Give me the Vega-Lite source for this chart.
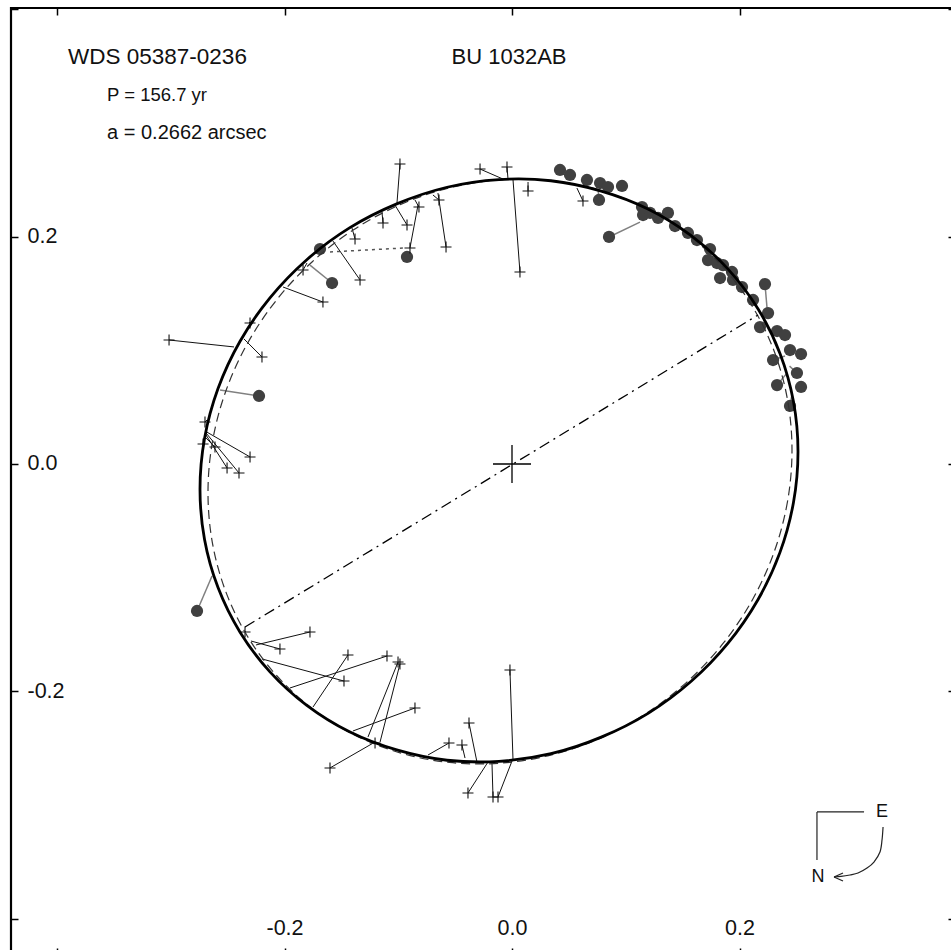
{
  "$schema": "https://vega.github.io/schema/vega-lite/v6.json",
  "width": 944,
  "height": 947,
  "autosize": {"type": "none"},
  "padding": {"left": 11, "top": 8, "right": 0, "bottom": 0},
  "background": "white",
  "config": {"view": {"stroke": "#000", "strokeWidth": 2.2}, "font": "Liberation Sans"},
  "datasets": {
    "orbit": [
      {"i": 0, "x": 0.25143, "y": 0.01076}, {"i": 1, "x": 0.24744, "y": -0.03390}, {"i": 2, "x": 0.23558, "y": -0.07771},
      {"i": 3, "x": 0.21621, "y": -0.11932}, {"i": 4, "x": 0.18993, "y": -0.15749}, {"i": 5, "x": 0.15753, "y": -0.19104},
      {"i": 6, "x": 0.12000, "y": -0.21896}, {"i": 7, "x": 0.07847, "y": -0.24010}, {"i": 8, "x": 0.03422, "y": -0.25471},
      {"i": 9, "x": -0.01143, "y": -0.26145}, {"i": 10, "x": -0.05708, "y": -0.26043}, {"i": 11, "x": -0.10133, "y": -0.25136},
      {"i": 12, "x": -0.14286, "y": -0.23542}, {"i": 13, "x": -0.18039, "y": -0.21220}, {"i": 14, "x": -0.21279, "y": -0.18271},
      {"i": 15, "x": -0.23907, "y": -0.14784}, {"i": 16, "x": -0.25844, "y": -0.10865}, {"i": 17, "x": -0.27030, "y": -0.06634},
      {"i": 18, "x": -0.27429, "y": -0.02218}, {"i": 19, "x": -0.27030, "y": 0.02248}, {"i": 20, "x": -0.25844, "y": 0.06629},
      {"i": 21, "x": -0.23907, "y": 0.10790}, {"i": 22, "x": -0.21279, "y": 0.14607}, {"i": 23, "x": -0.18039, "y": 0.17962},
      {"i": 24, "x": -0.14286, "y": 0.20754}, {"i": 25, "x": -0.10133, "y": 0.22868}, {"i": 26, "x": -0.05708, "y": 0.24329},
      {"i": 27, "x": -0.01143, "y": 0.25003}, {"i": 28, "x": 0.03422, "y": 0.24901}, {"i": 29, "x": 0.07847, "y": 0.23994},
      {"i": 30, "x": 0.12000, "y": 0.22400}, {"i": 31, "x": 0.15753, "y": 0.20078}, {"i": 32, "x": 0.18993, "y": 0.17129},
      {"i": 33, "x": 0.21621, "y": 0.13642}, {"i": 34, "x": 0.23558, "y": 0.09723}, {"i": 35, "x": 0.24744, "y": 0.05492}
    ],
    "orbit_old": [
      {"i": 0, "x": 0.24615, "y": 0.01207}, {"i": 1, "x": 0.24225, "y": -0.03274}, {"i": 2, "x": 0.23067, "y": -0.07676},
      {"i": 3, "x": 0.21176, "y": -0.11865}, {"i": 4, "x": 0.18609, "y": -0.15713}, {"i": 5, "x": 0.15445, "y": -0.19104},
      {"i": 6, "x": 0.11780, "y": -0.21934}, {"i": 7, "x": 0.07725, "y": -0.24118}, {"i": 8, "x": 0.03403, "y": -0.25589},
      {"i": 9, "x": -0.01055, "y": -0.26303}, {"i": 10, "x": -0.05513, "y": -0.26237}, {"i": 11, "x": -0.09835, "y": -0.25394},
      {"i": 12, "x": -0.13890, "y": -0.23800}, {"i": 13, "x": -0.17555, "y": -0.21504}, {"i": 14, "x": -0.20719, "y": -0.18573},
      {"i": 15, "x": -0.23286, "y": -0.15097}, {"i": 16, "x": -0.25177, "y": -0.11184}, {"i": 17, "x": -0.26335, "y": -0.06950},
      {"i": 18, "x": -0.26725, "y": -0.02525}, {"i": 19, "x": -0.26335, "y": 0.01956}, {"i": 20, "x": -0.25177, "y": 0.06358},
      {"i": 21, "x": -0.23286, "y": 0.10547}, {"i": 22, "x": -0.20719, "y": 0.14395}, {"i": 23, "x": -0.17555, "y": 0.17786},
      {"i": 24, "x": -0.13890, "y": 0.20616}, {"i": 25, "x": -0.09835, "y": 0.22800}, {"i": 26, "x": -0.05513, "y": 0.24271},
      {"i": 27, "x": -0.01055, "y": 0.24985}, {"i": 28, "x": 0.03403, "y": 0.24919}, {"i": 29, "x": 0.07725, "y": 0.24076},
      {"i": 30, "x": 0.11780, "y": 0.22482}, {"i": 31, "x": 0.15445, "y": 0.20186}, {"i": 32, "x": 0.18609, "y": 0.17255},
      {"i": 33, "x": 0.21176, "y": 0.13779}, {"i": 34, "x": 0.23067, "y": 0.09866}, {"i": 35, "x": 0.24225, "y": 0.05632}
    ],
    "nodes": [
      {"i": 0, "x": -0.2347, "y": -0.1433},
      {"i": 1, "x": 0.2163, "y": 0.1310}
    ],
    "origin": [{"x": 0, "y": 0}],
    "plus": [
      {"x": -0.0985, "y": 0.2637, "ox": -0.1011, "oy": 0.2295},
      {"x": -0.0281, "y": 0.2593, "ox": -0.0079, "oy": 0.2505},
      {"x": -0.0044, "y": 0.2611, "ox": -0.0035, "oy": 0.2505},
      {"x": 0.0070, "y": 0.1688, "ox": 0.0009, "oy": 0.2497},
      {"x": 0.0141, "y": 0.2400, "ox": 0.0141, "oy": 0.2479},
      {"x": -0.1134, "y": 0.2119, "ox": -0.1143, "oy": 0.2215},
      {"x": -0.0923, "y": 0.2101, "ox": -0.1029, "oy": 0.2277},
      {"x": -0.0818, "y": 0.2259, "ox": -0.0853, "oy": 0.2321},
      {"x": -0.0897, "y": 0.1899, "ox": -0.0826, "oy": 0.2277},
      {"x": -0.0642, "y": 0.2321, "ox": -0.0695, "oy": 0.2365},
      {"x": -0.0580, "y": 0.1908, "ox": -0.0651, "oy": 0.2382},
      {"x": -0.1380, "y": 0.1978, "ox": -0.1407, "oy": 0.2075},
      {"x": -0.1336, "y": 0.1618, "ox": -0.1574, "oy": 0.1960},
      {"x": -0.1837, "y": 0.1705, "ox": -0.1802, "oy": 0.1767},
      {"x": -0.1662, "y": 0.1424, "ox": -0.2013, "oy": 0.1556},
      {"x": -0.2303, "y": 0.1240, "ox": -0.2312, "oy": 0.1248},
      {"x": -0.3015, "y": 0.1090, "ox": -0.2444, "oy": 0.1029},
      {"x": -0.2198, "y": 0.0941, "ox": -0.2356, "oy": 0.1099},
      {"x": -0.2699, "y": 0.0369, "ox": -0.2681, "oy": 0.0387},
      {"x": -0.2716, "y": 0.0176, "ox": -0.2708, "oy": 0.0211},
      {"x": -0.2611, "y": 0.0149, "ox": -0.2699, "oy": 0.0237},
      {"x": -0.2303, "y": 0.0062, "ox": -0.2699, "oy": 0.0290},
      {"x": -0.2505, "y": -0.0035, "ox": -0.2690, "oy": 0.0255},
      {"x": -0.2400, "y": -0.0079, "ox": -0.2690, "oy": 0.0273},
      {"x": -0.2347, "y": -0.1477, "ox": -0.2338, "oy": -0.1468},
      {"x": -0.1776, "y": -0.1477, "ox": -0.2251, "oy": -0.1591},
      {"x": -0.2040, "y": -0.1626, "ox": -0.2295, "oy": -0.1556},
      {"x": -0.1442, "y": -0.1679, "ox": -0.1749, "oy": -0.2136},
      {"x": -0.1099, "y": -0.1688, "ox": -0.1952, "oy": -0.1969},
      {"x": -0.1002, "y": -0.1741, "ox": -0.1266, "oy": -0.2400},
      {"x": -0.0985, "y": -0.1758, "ox": -0.1160, "oy": -0.2444},
      {"x": -0.1477, "y": -0.1908, "ox": -0.2198, "oy": -0.1714},
      {"x": -0.0853, "y": -0.2145, "ox": -0.1398, "oy": -0.2347},
      {"x": -0.1600, "y": -0.2672, "ox": -0.1204, "oy": -0.2444},
      {"x": -0.1204, "y": -0.2453, "ox": -0.1204, "oy": -0.2453},
      {"x": -0.0554, "y": -0.2453, "ox": -0.0738, "oy": -0.2558},
      {"x": -0.0440, "y": -0.2470, "ox": -0.0413, "oy": -0.2585},
      {"x": -0.0378, "y": -0.2277, "ox": -0.0308, "oy": -0.2620},
      {"x": -0.0018, "y": -0.1811, "ox": 0.0009, "oy": -0.2602},
      {"x": -0.0387, "y": -0.2892, "ox": -0.0211, "oy": -0.2620},
      {"x": -0.0167, "y": -0.2927, "ox": -0.0176, "oy": -0.2628},
      {"x": -0.0123, "y": -0.2927, "ox": 0.0000, "oy": -0.2611},
      {"x": 0.0624, "y": 0.2312, "ox": 0.0571, "oy": 0.2426}
    ],
    "circ": [
      {"x": -0.1688, "y": 0.1890},
      {"x": -0.0923, "y": 0.1820},
      {"x": -0.1582, "y": 0.1591, "ox": -0.1776, "oy": 0.1749},
      {"x": -0.2224, "y": 0.0598, "ox": -0.2567, "oy": 0.0651},
      {"x": -0.2769, "y": -0.1292, "ox": -0.2637, "oy": -0.0985},
      {"x": 0.0422, "y": 0.2585}, {"x": 0.0510, "y": 0.2541}, {"x": 0.0659, "y": 0.2497},
      {"x": 0.0774, "y": 0.2470}, {"x": 0.0844, "y": 0.2435}, {"x": 0.0967, "y": 0.2444},
      {"x": 0.0765, "y": 0.2321, "ox": 0.0756, "oy": 0.2420},
      {"x": 0.0853, "y": 0.1996, "ox": 0.1125, "oy": 0.2127},
      {"x": 0.1143, "y": 0.2259}, {"x": 0.1152, "y": 0.2189}, {"x": 0.1213, "y": 0.2207},
      {"x": 0.1284, "y": 0.2163}, {"x": 0.1371, "y": 0.2207}, {"x": 0.1433, "y": 0.2092},
      {"x": 0.1547, "y": 0.2031}, {"x": 0.1626, "y": 0.1969}, {"x": 0.1741, "y": 0.1890},
      {"x": 0.1723, "y": 0.1793}, {"x": 0.1802, "y": 0.1767}, {"x": 0.1855, "y": 0.1749},
      {"x": 0.1829, "y": 0.1635}, {"x": 0.1943, "y": 0.1618}, {"x": 0.1934, "y": 0.1688},
      {"x": 0.2022, "y": 0.1556},
      {"x": 0.2224, "y": 0.1582, "ox": 0.2242, "oy": 0.1371},
      {"x": 0.2119, "y": 0.1442}, {"x": 0.2251, "y": 0.1327}, {"x": 0.2180, "y": 0.1204},
      {"x": 0.2330, "y": 0.1169}, {"x": 0.2400, "y": 0.1134},
      {"x": 0.2295, "y": 0.0914, "ox": 0.2400, "oy": 0.0950},
      {"x": 0.2444, "y": 0.1002}, {"x": 0.2541, "y": 0.0967},
      {"x": 0.2505, "y": 0.0800, "ox": 0.2440, "oy": 0.0860},
      {"x": 0.2541, "y": 0.0677},
      {"x": 0.2330, "y": 0.0694, "ox": 0.2410, "oy": 0.0790},
      {"x": 0.2444, "y": 0.0510, "ox": 0.2460, "oy": 0.0600}
    ],
    "dotted": [{"x": -0.1600, "y": 0.1864, "x2": -0.0958, "y2": 0.1899}],
    "compass_seg": [
      {"x": 0.2681, "y": -0.3059, "x2": 0.3095, "y2": -0.3059},
      {"x": 0.2681, "y": -0.3059, "x2": 0.2681, "y2": -0.3481},
      {"x": 0.2831, "y": -0.3631, "x2": 0.2910, "y2": -0.3596},
      {"x": 0.2831, "y": -0.3631, "x2": 0.2910, "y2": -0.3666}
    ],
    "compass_arc": [
      {"i": 0, "x": 0.3262, "y": -0.3191}, {"i": 1, "x": 0.3253, "y": -0.3305},
      {"i": 2, "x": 0.3235, "y": -0.3411}, {"i": 3, "x": 0.3182, "y": -0.3499},
      {"i": 4, "x": 0.3121, "y": -0.3552}, {"i": 5, "x": 0.3042, "y": -0.3596},
      {"i": 6, "x": 0.2971, "y": -0.3613}, {"i": 7, "x": 0.2892, "y": -0.3626},
      {"i": 8, "x": 0.2831, "y": -0.3631}
    ],
    "compass_txt": [
      {"x": 0.3253, "y": -0.3059, "text": "E"},
      {"x": 0.2690, "y": -0.3631, "text": "N"}
    ]
  },
  "resolve": {"axis": {"x": "independent", "y": "independent"}},
  "layer": [
    {
      "data": {"name": "circ"},
      "transform": [{"filter": "isValid(datum.ox)"}],
      "mark": {"type": "rule", "color": "#808080", "strokeWidth": 1.5},
      "encoding": {
        "x": {"field": "x", "type": "quantitative", "scale": {"domain": [-0.44044, 0.38945], "nice": false, "zero": false}, "axis": null},
        "y": {"field": "y", "type": "quantitative", "scale": {"domain": [-0.43165, 0.40088], "nice": false, "zero": false}, "axis": null},
        "x2": {"field": "ox"},
        "y2": {"field": "oy"}
      }
    },
    {
      "data": {"name": "circ"},
      "mark": {"type": "point", "shape": "circle", "filled": true, "size": 150, "color": "#404040", "opacity": 1},
      "encoding": {
        "x": {"field": "x", "type": "quantitative", "axis": null},
        "y": {"field": "y", "type": "quantitative", "axis": null}
      }
    },
    {
      "data": {"name": "plus"},
      "mark": {"type": "rule", "color": "#111", "strokeWidth": 1},
      "encoding": {
        "x": {"field": "x", "type": "quantitative", "axis": null},
        "y": {"field": "y", "type": "quantitative", "axis": null},
        "x2": {"field": "ox"},
        "y2": {"field": "oy"}
      }
    },
    {
      "data": {"name": "plus"},
      "mark": {"type": "point", "shape": "M-1,0H1M0,-1V1", "filled": false, "size": 121, "stroke": "#111", "strokeWidth": 1.1, "opacity": 1},
      "encoding": {
        "x": {"field": "x", "type": "quantitative", "axis": null},
        "y": {"field": "y", "type": "quantitative", "axis": null}
      }
    },
    {
      "data": {"name": "dotted"},
      "mark": {"type": "rule", "color": "#555", "strokeWidth": 1.5, "strokeDash": [3, 4]},
      "encoding": {
        "x": {"field": "x", "type": "quantitative", "axis": null},
        "y": {"field": "y", "type": "quantitative", "axis": null},
        "x2": {"field": "x2"},
        "y2": {"field": "y2"}
      }
    },
    {
      "data": {"name": "orbit_old"},
      "mark": {"type": "line", "interpolate": "cardinal-closed", "color": "#333", "strokeWidth": 1.2, "strokeDash": [9, 5]},
      "encoding": {
        "x": {"field": "x", "type": "quantitative", "axis": {"orient": "top", "values": [-0.4, -0.2, 0, 0.2, 0.4], "tickSize": -7, "tickColor": "#000", "tickWidth": 1.5, "labels": false, "domain": false, "grid": false, "title": null}},
        "y": {"field": "y", "type": "quantitative", "axis": {"orient": "right", "values": [-0.4, -0.2, 0, 0.2, 0.4], "tickSize": -7, "tickColor": "#000", "tickWidth": 1.5, "labels": false, "domain": false, "grid": false, "title": null}},
        "order": {"field": "i", "type": "quantitative"}
      }
    },
    {
      "data": {"name": "orbit"},
      "mark": {"type": "line", "interpolate": "cardinal-closed", "color": "#000", "strokeWidth": 2.8},
      "encoding": {
        "x": {"field": "x", "type": "quantitative", "axis": {"orient": "bottom", "values": [-0.4, -0.2, 0, 0.2, 0.4], "tickSize": -7, "tickColor": "#000", "tickWidth": 1.5, "domain": false, "grid": false, "title": null, "labelPadding": -14, "labelBaseline": "alphabetic", "labelFontSize": 21.5, "labelFont": "Liberation Sans", "labelColor": "#111", "labelFlush": false, "labelOverlap": false, "labelExpr": "abs(datum.value) > 0.3 ? '' : (datum.value < -0.001 ? '-' + format(abs(datum.value), '.1f') : format(abs(datum.value), '.1f'))"}},
        "y": {"field": "y", "type": "quantitative", "axis": {"orient": "left", "values": [-0.4, -0.2, 0, 0.2, 0.4], "tickSize": -7, "tickColor": "#000", "tickWidth": 1.5, "domain": false, "grid": false, "title": null, "labelPadding": -9, "labelAlign": "left", "labelBaseline": "middle", "labelFontSize": 21.5, "labelFont": "Liberation Sans", "labelColor": "#111", "labelFlush": false, "labelOverlap": false, "labelExpr": "abs(datum.value) > 0.3 ? '' : (datum.value < -0.001 ? '-' + format(abs(datum.value), '.1f') : format(abs(datum.value), '.1f'))"}},
        "order": {"field": "i", "type": "quantitative"}
      }
    },
    {
      "data": {"name": "nodes"},
      "mark": {"type": "line", "color": "#000", "strokeWidth": 1.3, "strokeDash": [11, 5, 2, 5]},
      "encoding": {
        "x": {"field": "x", "type": "quantitative", "axis": null},
        "y": {"field": "y", "type": "quantitative", "axis": null},
        "order": {"field": "i", "type": "quantitative"}
      }
    },
    {
      "data": {"name": "origin"},
      "mark": {"type": "point", "shape": "M-1,0H1M0,-1V1", "filled": false, "size": 1444, "stroke": "#000", "strokeWidth": 1.3, "opacity": 1},
      "encoding": {
        "x": {"field": "x", "type": "quantitative", "axis": null},
        "y": {"field": "y", "type": "quantitative", "axis": null}
      }
    },
    {
      "data": {"values": [{"x": -0.3903, "y": 0.3516, "text": "WDS 05387-0236"}]},
      "mark": {"type": "text", "align": "left", "baseline": "alphabetic", "fontSize": 22.5, "font": "Liberation Sans", "color": "#111"},
      "encoding": {
        "x": {"field": "x", "type": "quantitative", "axis": null},
        "y": {"field": "y", "type": "quantitative", "axis": null},
        "text": {"field": "text"}
      }
    },
    {
      "data": {"values": [{"x": -0.0026, "y": 0.3516, "text": "BU 1032AB"}]},
      "mark": {"type": "text", "align": "center", "baseline": "alphabetic", "fontSize": 22, "font": "Liberation Sans", "color": "#111"},
      "encoding": {
        "x": {"field": "x", "type": "quantitative", "axis": null},
        "y": {"field": "y", "type": "quantitative", "axis": null},
        "text": {"field": "text"}
      }
    },
    {
      "data": {"values": [{"x": -0.3560, "y": 0.3191, "text": "P = 156.7 yr"}]},
      "mark": {"type": "text", "align": "left", "baseline": "alphabetic", "fontSize": 18.5, "font": "Liberation Sans", "color": "#111"},
      "encoding": {
        "x": {"field": "x", "type": "quantitative", "axis": null},
        "y": {"field": "y", "type": "quantitative", "axis": null},
        "text": {"field": "text"}
      }
    },
    {
      "data": {"values": [{"x": -0.3560, "y": 0.2857, "text": "a = 0.2662 arcsec"}]},
      "mark": {"type": "text", "align": "left", "baseline": "alphabetic", "fontSize": 20, "font": "Liberation Sans", "color": "#111"},
      "encoding": {
        "x": {"field": "x", "type": "quantitative", "axis": null},
        "y": {"field": "y", "type": "quantitative", "axis": null},
        "text": {"field": "text"}
      }
    },
    {
      "data": {"name": "compass_seg"},
      "mark": {"type": "rule", "color": "#222", "strokeWidth": 1.2},
      "encoding": {
        "x": {"field": "x", "type": "quantitative", "axis": null},
        "y": {"field": "y", "type": "quantitative", "axis": null},
        "x2": {"field": "x2"},
        "y2": {"field": "y2"}
      }
    },
    {
      "data": {"name": "compass_arc"},
      "mark": {"type": "line", "interpolate": "cardinal", "color": "#222", "strokeWidth": 1.2},
      "encoding": {
        "x": {"field": "x", "type": "quantitative", "axis": null},
        "y": {"field": "y", "type": "quantitative", "axis": null},
        "order": {"field": "i", "type": "quantitative"}
      }
    },
    {
      "data": {"name": "compass_txt"},
      "mark": {"type": "text", "align": "center", "baseline": "middle", "fontSize": 18, "font": "Liberation Sans", "color": "#111"},
      "encoding": {
        "x": {"field": "x", "type": "quantitative", "axis": null},
        "y": {"field": "y", "type": "quantitative", "axis": null},
        "text": {"field": "text"}
      }
    }
  ]
}
